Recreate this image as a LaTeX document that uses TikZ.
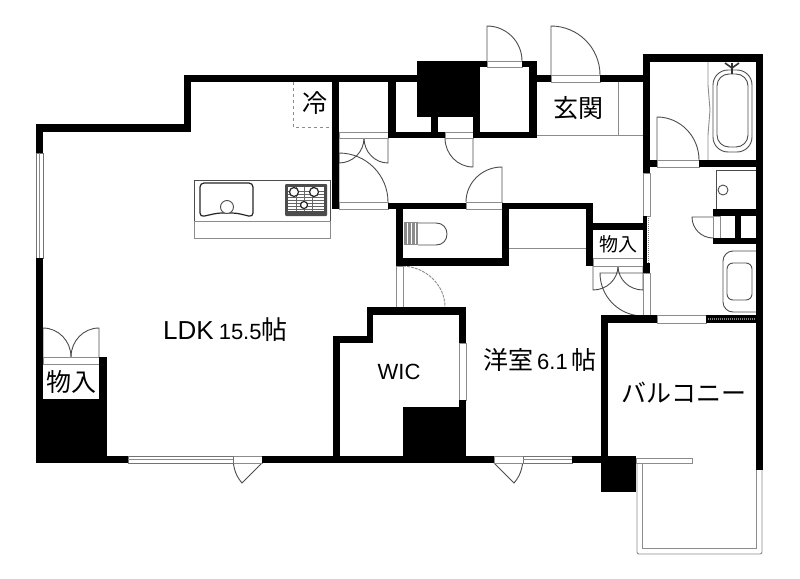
\documentclass[tikz,border=0pt]{standalone}
\usepackage{fontspec}
\setmainfont{Liberation Sans}
\newfontfamily\cjk{Noto Sans CJK JP}
\usetikzlibrary{calc}
\tikzset{
	wall/.style={fill=black},
	fixture/.style={draw=black!70, line width=0.9pt},
	thinline/.style={draw=black!45, line width=0.9pt},
	sill/.style={draw=black!45, fill=white, line width=0.8pt},
	pane/.style={draw=black!55, fill=white, line width=0.9pt},
	hatch/.style={draw=black!50, line width=1.6pt, dash pattern=on 1pt off 1pt},
	label/.style={inner sep=0pt, font=\cjk\fontsize{25}{25}\selectfont},
	smalllabel/.style={inner sep=0pt, font=\cjk\fontsize{19}{19}\selectfont},
	latinlabel/.style={inner sep=0pt, font=\fontsize{22}{22}\selectfont}
}
\newcommand{\bigword}[1]{{\fontsize{26}{26}\selectfont #1}}
% door leaf from the hinge to #2, then the swing from #2 to #3
\newcommand{\doorleaf}[3]{\draw[fixture] (#1) -- (#2) .. controls ($(#2)+0.5523*(#3)-0.5523*(#1)$) and ($(#3)+0.5523*(#2)-0.5523*(#1)$) .. (#3);}
\begin{document}
\begin{tikzpicture}[x=1pt, y=-1pt]
	\useasboundingbox (0,0) rectangle (800,578);

	% doors
	\doorleaf{487,61}{487,26}{522,61}
	\doorleaf{551,75}{551,26}{600,75}
	\doorleaf{657,160}{657,117}{699,160}
	\doorleaf{388,138}{388,163}{364,138}
	\doorleaf{339,138}{339,163}{364,138}
	\doorleaf{339,202}{339,153}{388,202}
	\doorleaf{473,138}{473,167}{445,138}
	\doorleaf{502,202}{502,167}{466,202}
	\doorleaf{713,217}{692,217}{713,238}
	\doorleaf{593,266}{593,290}{618,266}
	\doorleaf{643,266}{643,290}{618,266}
	\doorleaf{643,273}{600,273}{643,316}
	\doorleaf{99,357}{99,328}{71,357}
	\doorleaf{43,357}{43,328}{71,357}
	\draw[fixture] (262,463) -- (242,483) .. controls (237,477) and (233,470) .. (233,456);
	\draw[fixture] (494,463) -- (514,483) .. controls (519,477) and (523,470) .. (523,456);
	\draw[thinline, dash pattern=on 3pt off 1pt] (403,266) .. controls (426,267) and (445,285) .. (445,307);

	% room lines
	\draw[thinline] (537,135) -- (643,135);
	\draw[thinline] (618,82) -- (618,135);
	\draw[thinline] (509,248) -- (586,248);
	\draw[thinline, dashed] (293,82) -- (293,127) -- (332,127);

	% kitchen
	\draw[fixture] (194,180) rectangle (330,221);
	\draw[thinline] (194,221) rectangle (330,238);
	\draw[black!85, line width=1.2pt, rounded corners=4pt] (200,183) -- (253,183) -- (253,217) -- (236,213) -- (218,213) -- (200,217) -- cycle;
	\draw[fixture, fill=white] (227,207) circle (6.5);
	\fill[black!70, rounded corners=1pt] (285,184) rectangle (327,216);
	\fill[white] (288,187) rectangle (324,211);
	\foreach \gy in {191,194,197,200,203,206,209} {
		\draw[black!60, line width=0.7pt] (288,\gy) -- (324,\gy);
	}
	\foreach \gx in {296,304,312} {
		\draw[black!60, line width=0.7pt] (\gx,187) -- (\gx,211);
	}
	\foreach \bx/\by/\br in {294/192/4.5,314/192/4.5,304/205/3.5} {
		\draw[black!85, fill=white, line width=1.2pt] (\bx,\by) circle (\br);
	}

	% toilet
	\fill[black!45] (404,222) rectangle (418,245);
	\foreach \tx in {407,411,415} {
		\draw[white, line width=1pt] (\tx,223) -- (\tx,244);
	}
	\draw[fixture] (418,223) -- (436,223) .. controls (443,223) and (447,228) .. (447,234) .. controls (447,240) and (443,245) .. (436,245) -- (418,245);

	% bath
	\draw[thinline] (708,62) -- (708,85) -- (710,110) -- (708,135) -- (708,160);
	\draw[fixture, rounded corners=15pt] (713,70) rectangle (752,152);
	\draw[fixture, rounded corners=12pt] (717,74) rectangle (748,147);
	\draw[black!80, line width=1.6pt] (732,63) -- (732,74);
	\draw[black!80, line width=1.6pt] (725,63) -- (732,68) -- (739,63);

	% vanity and laundry pan
	\draw[fixture] (716,170) rectangle (756,209);
	\draw[fixture] (723,190) circle (5);
	\draw[fixture, rounded corners=10pt] (756,251) -- (723,251) -- (723,312) -- (756,312);
	\draw[fixture, rounded corners=6pt] (727,263) rectangle (752,300);

	% sills
	\foreach \ax/\ay/\bx/\by in {339/132/388/138, 445/132/473/138, 487/61/522/67, 551/75/600/82, 657/160/699/167, 339/202/388/209, 466/202/502/209, 593/258/643/266, 43/357/99/364, 233/456/262/463, 494/456/523/463, 713/216/720/238, 396/266/403/307} {
		\draw[sill] (\ax,\ay) rectangle (\bx,\by);
	}

	% windows
	\foreach \ax/\ay/\bx/\by in {36/153/43/258, 128/456/233/463, 523/456/572/463} {
		\draw[pane] (\ax,\ay) rectangle (\bx,\by);
	}
	\draw[thinline] (39.5,153) -- (39.5,258);
	\draw[thinline] (128,459.5) -- (233,459.5);
	\draw[thinline] (523,459.5) -- (572,459.5);
	\foreach \ax/\ay/\bx/\by in {459/343/466/400, 643/173/650/216, 657/315/706/323, 643/273/650/315} {
		\draw[sill] (\ax,\ay) rectangle (\bx,\by);
	}

	% balcony rail
	\draw[thinline, rounded corners=2pt] (637,458) -- (637,554) -- (762,554) -- (762,470);
	\draw[thinline] (642,463) -- (642,548) -- (756,548) -- (756,470);
	\draw[sill] (636,458) rectangle (692,463);

	% walls
	\foreach \ax/\ay/\bx/\by in {
		184/75/417/82, 184/75/191/132, 36/124/191/132, 36/124/43/153,
		36/258/43/399, 36/399/107/463, 99/357/107/399, 36/456/128/463,
		262/456/494/463, 572/456/601/463, 601/456/636/492,
		332/75/339/209, 388/75/396/138, 388/132/445/138,
		417/61/480/117, 431/117/438/138, 473/117/480/138, 480/61/487/67,
		473/132/537/138, 522/61/537/67, 529/61/537/138,
		537/75/551/82, 600/75/644/82,
		643/54/763/62, 643/54/650/173, 756/54/763/470, 650/160/657/167, 699/160/763/167,
		713/209/756/216, 713/238/756/244, 735/209/741/244,
		388/203/466/209, 502/203/593/209,
		396/203/403/266, 396/258/509/266, 502/203/509/266, 586/203/593/266, 593/223/643/230,
		643/216/647/263, 643/263/650/273,
		601/315/657/323, 706/315/756/323, 601/315/608/463,
		367/307/466/315, 367/307/373/343, 333/336/373/343, 333/336/340/463,
		459/307/466/343, 403/407/466/463, 459/400/466/407} {
		\fill[wall] (\ax,\ay) rectangle (\bx,\by);
	}
	\draw[hatch] (648.5,216) -- (648.5,263);
	\draw[hatch] (708,319) -- (756,319);

	% labels
	\node (Fridge) [label] at (315,103) {冷};
	\node (Entrance) [label] at (578,108) {玄関};
	\node (StoreEast) [smalllabel] at (618,244) {物入};
	\node (StoreWest) [label] at (71,382) {物入};
	\node (Living) [latinlabel, anchor=base west] at (163,339) {\bigword{LDK}\hspace{5pt}15.5{\cjk\bigword{帖}}};
	\node (Bedroom) [latinlabel, anchor=base west] at (483,369) {{\cjk\fontsize{25}{25}\selectfont 洋室}\hspace{4pt}6.1\hspace{4pt}{\cjk\fontsize{25}{25}\selectfont 帖}};
	\node (Closet) [latinlabel] at (399,372) {WIC};
	\node (Balcony) [label] at (684,393) {バルコニー};
\end{tikzpicture}
\end{document}
